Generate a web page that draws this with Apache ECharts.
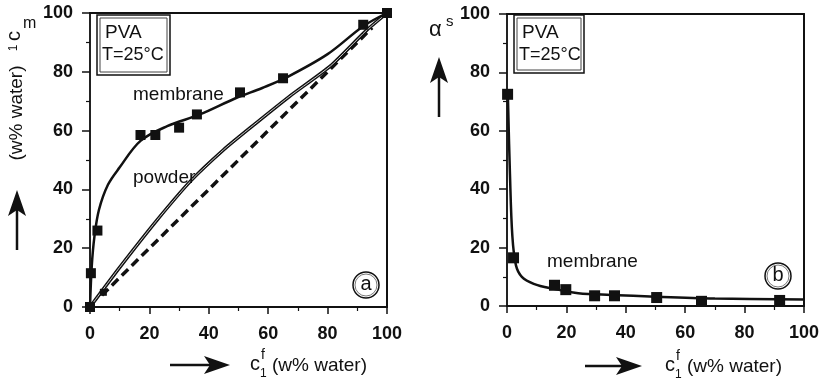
<!DOCTYPE html>
<html>
<head>
<meta charset="utf-8">
<script src="https://cdn.jsdelivr.net/npm/echarts@6/dist/echarts.min.js"></script>
<style>
  html, body { margin: 0; padding: 0; background: #fff; }
  #chart { width: 822px; height: 382px; }
</style>
</head>
<body>
<div id="chart"></div>
<script>
// panel a: sorption, c1m vs c1f
var membranePtsA = [[0, 0], [0.3, 11.5], [2.5, 26], [17, 58.5], [22, 58.5], [30, 61], [36, 65.5], [50.5, 73], [65, 77.8], [92, 96], [100, 100]];
var membraneFitA = [[0, 0], [0.6, 14], [1.5, 24], [3, 33], [6, 41.5], [10, 47.5], [17, 56.5], [26, 61.5], [37, 65.5], [49, 71], [58, 74.5], [66, 78], [80, 86], [92, 95.5], [100, 100]];
var powderFitA = [[0, 0], [10, 13.5], [22.5, 29.5], [34, 43], [45, 53.5], [54, 61], [67, 71.5], [81, 82], [93, 94], [100, 100]];
var powderPtsA = [[0, 0], [4.5, 5]];
var diagonalA = [[4, 4], [95, 95]];
// panel b: sorption selectivity
var membranePtsB = [[0.2, 72.5], [2.2, 16.5], [16, 7.1], [19.8, 5.6], [29.5, 3.5], [36.2, 3.5], [50.4, 2.9], [65.5, 1.6], [91.8, 1.9]];
var membraneFitB = [[0.3, 72], [1, 45], [1.8, 24], [3, 14], [5, 10], [9, 7.6], [15, 6], [24, 4.4], [35, 3.8], [50, 3.2], [70, 2.6], [100, 2.2]];
var ticks = [0, 20, 40, 60, 80, 100];

var FONT = '"Liberation Sans", Arial, sans-serif';
var INK = '#111';

var chart = echarts.init(document.getElementById('chart'), null, { renderer: 'canvas' });

function bottomAxis(g) {
  return {
    gridIndex: g, type: 'value', min: 0, max: 100, interval: 20, position: 'bottom',
    axisLine: { show: true, onZero: false, lineStyle: { color: INK, width: 2 } },
    axisTick: { show: true, length: 7, lineStyle: { color: INK, width: 1.5 } },
    minorTick: { show: true, splitNumber: 2, length: 4, lineStyle: { color: INK, width: 1.2 } },
    axisLabel: { margin: 18, fontFamily: FONT, fontSize: 18, fontWeight: 'bold', color: INK,
      formatter: function (v) { return ticks.indexOf(v) >= 0 ? String(v) : ''; } },
    splitLine: { show: false }
  };
}
function leftAxis(g) {
  return {
    gridIndex: g, type: 'value', min: 0, max: 100, interval: 20, position: 'left',
    axisLine: { show: true, onZero: false, lineStyle: { color: '#222', width: 2 } },
    axisTick: { show: true, length: 8, lineStyle: { color: INK, width: 1.5 } },
    minorTick: { show: true, splitNumber: 2, length: 4, lineStyle: { color: INK, width: 1.2 } },
    axisLabel: { margin: 17, fontFamily: FONT, fontSize: 18, fontWeight: 'bold', color: INK },
    splitLine: { show: false }
  };
}
function frameAxis(g, pos) {
  return {
    gridIndex: g, type: 'value', min: 0, max: 100, position: pos,
    axisLine: { show: true, onZero: false, lineStyle: { color: INK, width: 2 } },
    axisTick: { show: false }, axisLabel: { show: false }, splitLine: { show: false }
  };
}

function txt(text, x, y, size, opts) {
  opts = opts || {};
  return {
    type: 'text', x: x, y: y, rotation: opts.rotation || 0, z: 100,
    style: {
      text: text, font: (opts.weight || 'normal') + ' ' + size + 'px ' + FONT, fill: INK,
      align: opts.align || 'left', verticalAlign: 'middle',
      textAlign: opts.align || 'left', textVerticalAlign: 'middle'
    }
  };
}
function hArrow(x0, x1, y) {
  return [
    { type: 'line', z: 100, shape: { x1: x0, y1: y, x2: x1 - 14, y2: y }, style: { stroke: INK, lineWidth: 2.5 } },
    { type: 'polygon', z: 100, shape: { points: [[x1 - 26, y - 9], [x1, y], [x1 - 26, y + 9], [x1 - 20, y]] }, style: { fill: INK } }
  ];
}
function vArrow(x, yTip, yEnd) {
  return [
    { type: 'line', z: 100, shape: { x1: x, y1: yEnd, x2: x, y2: yTip + 14 }, style: { stroke: INK, lineWidth: 2.5 } },
    { type: 'polygon', z: 100, shape: { points: [[x - 9, yTip + 26], [x, yTip], [x + 9, yTip + 26], [x, yTip + 20]] }, style: { fill: INK } }
  ];
}
function xName(x, y) {
  return [
    txt('c', x, y - 2, 20),
    txt('1', x + 10, y + 8, 12),
    txt('f', x + 11, y - 11, 14),
    txt('(w% water)', x + 22, y, 19)
  ];
}
function pvaBox(x, y, w, h) {
  return [
    { type: 'rect', z: 90, shape: { x: x, y: y, width: w, height: h }, style: { fill: '#fff', stroke: INK, lineWidth: 1.5 } },
    { type: 'rect', z: 91, shape: { x: x + 3, y: y + 3, width: w - 6, height: h - 6 }, style: { fill: 'none', stroke: '#444', lineWidth: 1 } },
    txt('PVA', x + 8, y + 18, 19),
    txt('T=25°C', x + 5, y + 40, 18)
  ];
}
function circled(ch, cx, cy) {
  return [
    { type: 'circle', z: 100, shape: { cx: cx, cy: cy, r: 13 }, style: { fill: '#fff', stroke: INK, lineWidth: 1.5 } },
    { type: 'circle', z: 100, shape: { cx: cx, cy: cy, r: 11 }, style: { fill: 'none', stroke: '#555', lineWidth: 0.8 } },
    txt(ch, cx, cy - 1, 20, { align: 'center' })
  ];
}

var graphics = [].concat(
  hArrow(170, 230, 365), xName(250, 366),
  hArrow(585, 642, 366), xName(665, 367),
  vArrow(17, 190, 250),
  vArrow(439, 57, 117),
  [
    txt('c', 14, 36, 20, { align: 'center', rotation: Math.PI / 2 }),
    txt('1', 14, 48, 12, { align: 'center', rotation: Math.PI / 2 }),
    txt('m', 23, 24, 16),
    txt('(w% water)', 17, 113, 19, { align: 'center', rotation: Math.PI / 2 }),
    txt('α', 429, 30, 22),
    txt('s', 446, 22, 15),
    txt('membrane', 133, 95, 19),
    txt('powder', 133, 178, 19),
    txt('membrane', 547, 262, 19)
  ],
  pvaBox(97, 15, 73, 60),
  pvaBox(514, 15, 70, 58),
  circled('a', 366, 285),
  circled('b', 778, 276)
);

var option = {
  backgroundColor: '#fff',
  animation: false,
  grid: [
    { left: 90, top: 13, width: 297, height: 294 },
    { left: 507, top: 14, width: 298, height: 292 }
  ],
  xAxis: [bottomAxis(0), frameAxis(0, 'top'), bottomAxis(1), frameAxis(1, 'top')],
  yAxis: [leftAxis(0), frameAxis(0, 'right'), leftAxis(1), frameAxis(1, 'right')],
  series: [
    { // ideal diagonal
      type: 'line', xAxisIndex: 0, yAxisIndex: 0, data: diagonalA, symbol: 'none',
      lineStyle: { color: INK, width: 3.5, type: [9, 5] }, z: 2
    },
    { // powder fit, outer stroke
      type: 'line', xAxisIndex: 0, yAxisIndex: 0, data: powderFitA, symbol: 'none',
      smooth: 0.2, lineStyle: { color: INK, width: 3.5 }, z: 3
    },
    { // powder fit, inner light stroke
      type: 'line', xAxisIndex: 0, yAxisIndex: 0, data: powderFitA, symbol: 'none',
      smooth: 0.2, lineStyle: { color: '#ccc', width: 1 }, z: 4
    },
    {
      type: 'scatter', xAxisIndex: 0, yAxisIndex: 0, data: powderPtsA, symbol: 'rect',
      symbolSize: 7, itemStyle: { color: INK, opacity: 1 }, z: 5
    },
    {
      type: 'line', xAxisIndex: 0, yAxisIndex: 0, data: membraneFitA, symbol: 'none',
      smooth: 0.35, lineStyle: { color: INK, width: 2.5 }, z: 5
    },
    {
      type: 'scatter', xAxisIndex: 0, yAxisIndex: 0, data: membranePtsA, symbol: 'rect',
      symbolSize: 10, itemStyle: { color: INK, opacity: 1 }, z: 6
    },
    {
      type: 'line', xAxisIndex: 2, yAxisIndex: 2, data: membraneFitB, symbol: 'none',
      smooth: 0.35, lineStyle: { color: INK, width: 2.5 }, z: 5
    },
    {
      type: 'scatter', xAxisIndex: 2, yAxisIndex: 2, data: membranePtsB, symbol: 'rect',
      symbolSize: 11, itemStyle: { color: INK, opacity: 1 }, z: 6
    }
  ],
  graphic: graphics
};
chart.setOption(option);
</script>
</body>
</html>
